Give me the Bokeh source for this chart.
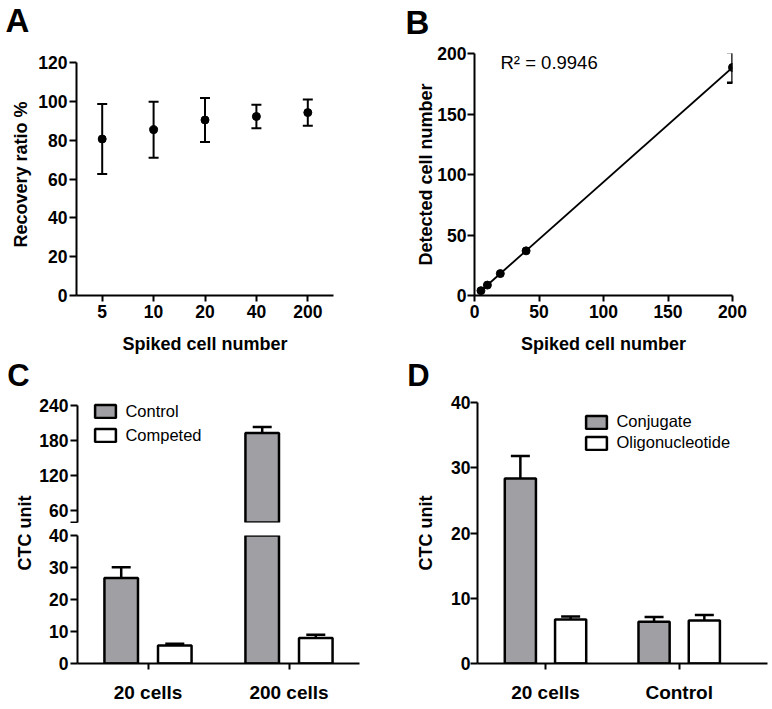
import numpy as np
from bokeh.plotting import figure
from bokeh.models import (ColumnDataSource, Whisker, TeeHead, Label, Legend,
                          LegendItem, FixedTicker, Range1d, FactorRange)
from bokeh.layouts import row, column
from bokeh.embed import file_html
from bokeh.resources import INLINE

FONT = "Liberation Sans"
GRAY = "#a0a0a4"
BLACK = "black"

# ---------------- data ----------------
# Panel A: recovery ratio
a_spiked = ["5", "10", "20", "40", "200"]
a_recovery = [80.6, 85.4, 90.4, 92.2, 94.2]
a_sd = [18.0, 14.4, 11.3, 6.0, 6.8]
a_yticks = [0, 20, 40, 60, 80, 100, 120]
a_ymax = 120

# Panel B: detected vs spiked
b_spiked = [5, 10, 20, 40, 200]
b_detected = [4.0, 8.6, 18.1, 36.9, 188.5]
b_sd = [0.9, 1.4, 2.3, 2.4, 12.6]
b_ticks = [0, 50, 100, 150, 200]
b_r2 = "R\u00b2 = 0.9946"

# Panel C: control vs competed (broken y axis)
c_groups = ["20 cells", "200 cells"]
c_control = [26.7, 193.2]
c_control_sd = [3.4, 10.2]
c_competed = [5.6, 8.0]
c_competed_sd = [0.6, 1.0]
c_low_ticks = [0, 10, 20, 30, 40]
c_high_ticks = [40, 60, 120, 180, 240]
c_break = 40
c_top = 240
c_series = ["Control", "Competed"]

# Panel D: conjugate vs oligonucleotide
d_groups = ["20 cells", "Control"]
d_conjugate = [28.35, 6.4]
d_conjugate_sd = [3.45, 0.72]
d_oligo = [6.75, 6.6]
d_oligo_sd = [0.46, 0.82]
d_ticks = [0, 10, 20, 30, 40]
d_series = ["Conjugate", "Oligonucleotide"]


# ---------------- helpers ----------------
def new_fig(w, h, xr, yr, left, right, top, bottom, **kw):
    p = figure(width=w, height=h, x_range=xr, y_range=yr, output_backend="svg",
               toolbar_location=None, min_border_left=left, min_border_right=right,
               min_border_top=top, min_border_bottom=bottom, **kw)
    p.outline_line_color = None
    p.grid.visible = False
    p.background_fill_color = "white"
    p.border_fill_color = "white"
    return p


def letter_fig(w, h, letter, x, y, size):
    p = new_fig(w, h, Range1d(0, 1), Range1d(0, 1), 0, 0, 0, 0,
                x_axis_location=None, y_axis_location=None)
    p.add_layout(Label(x=x, y=y, x_units="screen", y_units="screen", text=letter,
                       text_font=FONT, text_font_size=size,
                       text_font_style="bold", text_baseline="middle",
                       text_color=BLACK))
    return p


def style_axes(p, tick_size="17.5px"):
    for ax in list(p.xaxis) + list(p.yaxis):
        ax.axis_line_width = 2
        ax.axis_line_color = BLACK
        ax.major_tick_line_width = 2
        ax.major_tick_line_color = BLACK
        ax.major_tick_in = 0
        ax.minor_tick_line_color = None
        ax.major_label_text_font = FONT
        ax.major_label_text_font_style = "bold"
        ax.major_label_text_font_size = tick_size
        ax.major_label_text_color = BLACK
        ax.axis_label_text_font = FONT
        ax.axis_label_text_font_style = "bold"
        ax.axis_label_text_font_size = "18px"
        ax.axis_label_text_color = BLACK
    for ax in p.xaxis:
        ax.major_tick_out = 6
    for ax in p.yaxis:
        ax.major_tick_out = 7


def whiskers(p, base, lower, upper, head, lw, two_sided):
    if not base:
        return
    src = ColumnDataSource(dict(base=base, lower=lower, upper=upper))
    w = Whisker(base="base", lower="lower", upper="upper", source=src,
                line_width=lw, line_color=BLACK,
                upper_head=TeeHead(size=head, line_width=lw, line_color=BLACK),
                lower_head=(TeeHead(size=head, line_width=lw, line_color=BLACK)
                            if two_sided else None))
    p.add_layout(w)


def make_legend(p, renderers, labels, loc, spacing):
    items = [LegendItem(label=l, renderers=[r]) for l, r in zip(labels, renderers)]
    leg = Legend(items=items, location=loc, orientation="vertical",
                 glyph_width=26, glyph_height=16, label_standoff=7,
                 spacing=spacing, padding=0, margin=0, label_height=20,
                 border_line_color=None, background_fill_alpha=0,
                 inactive_fill_alpha=0,
                 label_text_font=FONT, label_text_font_size="16.5px",
                 label_text_color=BLACK)
    p.add_layout(leg)


# ---------------- panel letters ----------------
la = letter_fig(390, 41, "A", 5, 21, "33px")
lb = letter_fig(382, 41, "B", 15, 19.3, "33px")
lc = letter_fig(390, 35, "C", 6.7, 17.35, "31px")
ld = letter_fig(382, 35, "D", 16.7, 17.35, "31px")

# ---------------- Panel A ----------------
# frame 76..333 x 53..295 ; value 120 sits at y=62
a_top_val = a_ymax * (295 - 53) / (295 - 62)
pa = new_fig(390, 316, FactorRange(factors=a_spiked), Range1d(0, a_top_val),
             76, 57, 12, 62)
a_src = ColumnDataSource(dict(x=a_spiked, y=a_recovery))
whiskers(pa, a_spiked, [m - s for m, s in zip(a_recovery, a_sd)],
         [m + s for m, s in zip(a_recovery, a_sd)], 10, 2, True)
pa.scatter("x", "y", source=a_src, size=8, color=BLACK)
pa.yaxis.ticker = FixedTicker(ticks=a_yticks)
pa.yaxis.bounds = (0, a_ymax)
pa.xaxis.axis_label = "Spiked cell number"
pa.yaxis.axis_label = "Recovery ratio %"
style_axes(pa)
pa.xaxis.major_label_standoff = 3
pa.xaxis.axis_label_standoff = 13
pa.yaxis.major_label_standoff = 2
pa.yaxis.axis_label_standoff = 4

# ---------------- Panel B ----------------
pb = new_fig(382, 316, Range1d(0, 200), Range1d(0, 200), 84, 40, 12, 62)
coef = np.polyfit(b_spiked, b_detected, 1)
fit_x = [min(b_spiked), max(b_spiked)]
pb.line(fit_x, list(np.polyval(coef, fit_x)), line_width=1.8, color=BLACK)
# Prism hides error bars that are shorter than the symbol
shown = [i for i, s in enumerate(b_sd) if s > 5]
whiskers(pb, [b_spiked[i] for i in shown],
         [b_detected[i] - b_sd[i] for i in shown],
         [b_detected[i] + b_sd[i] for i in shown], 11, 2.5, True)
pb.scatter(b_spiked, b_detected, size=8, color=BLACK)
pb.xaxis.ticker = FixedTicker(ticks=b_ticks)
pb.yaxis.ticker = FixedTicker(ticks=b_ticks)
pb.xaxis.axis_label = "Spiked cell number"
pb.yaxis.axis_label = "Detected cell number"
style_axes(pb)
pb.xaxis.major_label_standoff = 3
pb.xaxis.axis_label_standoff = 13
pb.yaxis.major_label_standoff = 1
pb.yaxis.axis_label_standoff = -2
pb.add_layout(Label(x=26, y=233.3, x_units="screen", y_units="screen",
                    text=b_r2, text_font=FONT, text_font_size="18.5px",
                    text_baseline="middle", text_color=BLACK))

# ---------------- Panel C (broken axis: two stacked frames) ----------------
c_pos = [i + 1 for i in range(len(c_groups))]
c_off, c_w = 0.19, 0.238
c_xr = Range1d(0.5, len(c_groups) + 0.5)

# narrow figure carrying the shared y-axis title
pcl = new_fig(36, 317, Range1d(0, 1), Range1d(0, 1), 34, 0, 10, 46,
              x_axis_location=None)
pcl.yaxis.ticker = FixedTicker(ticks=[])
pcl.yaxis.axis_label = "CTC unit"
style_axes(pcl)
pcl.yaxis.axis_line_color = None
pcl.yaxis.major_tick_out = 0
pcl.yaxis.major_label_standoff = 0
pcl.yaxis.axis_label_standoff = 0

# upper segment: 40..240 with 240 at y=405, frame 402..522
c_top_val = c_break + (c_top - c_break) * (522 - 402) / (522 - 405)
pct = new_fig(354, 131, c_xr, Range1d(c_break, c_top_val), 40, 31, 10, 1,
              x_axis_location=None)
pcb = new_fig(354, 186, c_xr, Range1d(0, c_break), 40, 31, 12, 46)

c_vals = [(c_control, c_control_sd, -c_off, GRAY),
          (c_competed, c_competed_sd, c_off, "white")]
legend_renderers = []
for vals, sds, off, col in c_vals:
    xs = [x + off for x in c_pos]
    # upper segment: only bars reaching above the break
    hi = [i for i, v in enumerate(vals) if v > c_break]
    whiskers(pct, [xs[i] for i in hi], [vals[i] for i in hi],
             [vals[i] + sds[i] for i in hi], 19, 2.5, False)
    pct.vbar(x=[xs[i] for i in hi], top=[vals[i] for i in hi], bottom=0,
             width=c_w, fill_color=col, line_color=BLACK, line_width=2.5)
    # full series (hidden) used as the legend swatch of the upper frame
    proxy = pct.vbar(x=xs, top=vals, bottom=0, width=c_w, fill_color=col,
                     line_color=BLACK, line_width=2.5, visible=False)
    legend_renderers.append(proxy)
    # lower segment: all bars (tall ones run out of the frame)
    lo = [i for i, v in enumerate(vals) if v + sds[i] <= c_break]
    whiskers(pcb, [xs[i] for i in lo], [vals[i] for i in lo],
             [vals[i] + sds[i] for i in lo], 19, 2.5, False)
    pcb.vbar(x=xs, top=vals, bottom=0, width=c_w, fill_color=col,
             line_color=BLACK, line_width=2.5)

pct.yaxis.ticker = FixedTicker(ticks=c_high_ticks)
pct.yaxis.bounds = (c_break, c_top)
pct.yaxis.major_label_overrides = {c_break: ""}
pcb.yaxis.ticker = FixedTicker(ticks=c_low_ticks)
pcb.xaxis.ticker = FixedTicker(ticks=c_pos)
pcb.xaxis.major_label_overrides = {p: g for p, g in zip(c_pos, c_groups)}
style_axes(pct)
style_axes(pcb)
pcb.xaxis.major_label_text_font_size = "19px"
pcb.xaxis.major_label_standoff = 12
pct.yaxis.major_label_standoff = 2
pcb.yaxis.major_label_standoff = 2
make_legend(pct, legend_renderers, c_series, (15.4, 76.6), 4)

# ---------------- Panel D ----------------
d_pos = [i + 1 for i in range(len(d_groups))]
d_off, d_w = 0.188, 0.233
pd_ = new_fig(382, 317, Range1d(0.4914, 2.6604), Range1d(0, 40), 87, 5, 10, 46)
d_renderers = []
for vals, sds, off, col in ((d_conjugate, d_conjugate_sd, -d_off, GRAY),
                            (d_oligo, d_oligo_sd, d_off, "white")):
    xs = [x + off for x in d_pos]
    whiskers(pd_, xs, vals, [v + s for v, s in zip(vals, sds)], 19, 2.5, False)
    d_renderers.append(pd_.vbar(x=xs, top=vals, bottom=0, width=d_w,
                                fill_color=col, line_color=BLACK, line_width=2.5))
pd_.yaxis.ticker = FixedTicker(ticks=d_ticks)
pd_.xaxis.ticker = FixedTicker(ticks=d_pos)
pd_.xaxis.major_label_overrides = {p: g for p, g in zip(d_pos, d_groups)}
pd_.yaxis.axis_label = "CTC unit"
style_axes(pd_)
pd_.xaxis.major_label_text_font_size = "19px"
pd_.xaxis.major_label_standoff = 12
pd_.yaxis.major_label_standoff = 0
pd_.yaxis.axis_label_standoff = 12
make_legend(pd_, d_renderers, d_series, (106.4, 210.3), 1)

layout = column(row(la, lb), row(pa, pb), row(lc, ld),
                row(pcl, column(pct, pcb), pd_))
html = file_html(layout, INLINE)
open("out.html", "w").write(html)
